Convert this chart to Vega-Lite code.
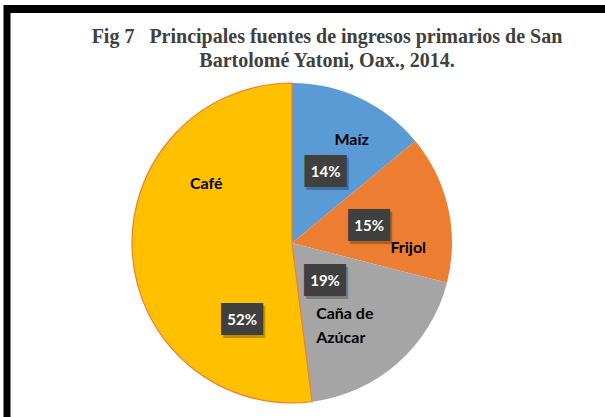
{
  "$schema": "https://vega.github.io/schema/vega-lite/v6.json",
  "width": 584,
  "height": 348,
  "autosize": {"type": "none"},
  "padding": {"left": 0, "top": 69, "right": 21, "bottom": 0},
  "background": "white",
  "config": {"view": {"stroke": null}},
  "title": {
    "text": ["Fig 7\u00a0\u00a0\u00a0Principales fuentes de ingresos primarios de San", "Bartolomé Yatoni, Oax., 2014."],
    "font": "Liberation Serif",
    "fontSize": 20,
    "fontWeight": "bold",
    "color": "#404040",
    "lineHeight": 24,
    "anchor": "middle",
    "frame": "group",
    "dx": 35,
    "offset": -69
  },
  "data": {
    "values": [
      {"cultivo": "Maíz", "etiqueta": "Maíz", "valor": 0.14},
      {"cultivo": "Frijol", "etiqueta": "Frijol", "valor": 0.15},
      {"cultivo": "Caña de Azúcar", "etiqueta": "Caña de\nAzúcar", "valor": 0.19},
      {"cultivo": "Café", "etiqueta": "Café", "valor": 0.52}
    ]
  },
  "layer": [
    {
      "data": {"values": [{}]},
      "mark": {"type": "rule", "color": "black", "strokeWidth": 8},
      "encoding": {"x": {"value": 4}, "x2": {"value": 605}, "y": {"value": -60}, "y2": {"value": -60}}
    },
    {
      "data": {"values": [{}]},
      "mark": {"type": "rule", "color": "black", "strokeWidth": 7},
      "encoding": {"x": {"value": 7}, "x2": {"value": 7}, "y": {"value": -64}, "y2": {"value": 348}}
    },
    {
      "encoding": {
        "theta": {"field": "valor", "type": "quantitative", "stack": true},
        "order": {"field": "valor", "type": "quantitative"}
      },
      "layer": [
        {
          "mark": {"type": "arc", "radius": 160, "strokeWidth": 1.2},
          "encoding": {
            "color": {
              "field": "cultivo", "type": "nominal", "legend": null,
              "scale": {"domain": ["Maíz", "Frijol", "Caña de Azúcar", "Café"], "range": ["#5B9BD5", "#ED7D31", "#A5A5A5", "#FFC000"]}
            },
            "stroke": {"condition": {"test": "datum.cultivo === 'Café'", "value": "#ED7D31"}, "value": null}
          }
        },
        {
          "mark": {"type": "text", "text": "██", "font": "DejaVu Sans", "fontSize": 27, "baseline": "middle", "color": "#000000", "dx": 2, "dy": 3, "radius": 79},
          "encoding": {
            "opacity": {"condition": {"test": "datum.cultivo === 'Maíz' || datum.cultivo === 'Frijol'", "value": 0.25}, "value": 0}
          }
        },
        {
          "mark": {"type": "text", "text": "██", "font": "DejaVu Sans", "fontSize": 27, "baseline": "middle", "color": "#000000", "dx": 2, "dy": 3, "radius": 50},
          "encoding": {
            "opacity": {"condition": {"test": "datum.cultivo === 'Caña de Azúcar'", "value": 0.25}, "value": 0}
          }
        },
        {
          "mark": {"type": "text", "text": "██", "font": "DejaVu Sans", "fontSize": 27, "baseline": "middle", "color": "#000000", "dx": 2, "dy": 77, "radius": 50},
          "encoding": {
            "opacity": {"condition": {"test": "datum.cultivo === 'Café'", "value": 0.25}, "value": 0}
          }
        },
        {
          "mark": {"type": "text", "text": "██", "font": "DejaVu Sans", "fontSize": 27, "baseline": "middle", "color": "#404040", "radius": 79},
          "encoding": {
            "opacity": {"condition": {"test": "datum.cultivo === 'Maíz' || datum.cultivo === 'Frijol'", "value": 1}, "value": 0}
          }
        },
        {
          "mark": {"type": "text", "text": "██", "font": "DejaVu Sans", "fontSize": 27, "baseline": "middle", "color": "#404040", "radius": 50},
          "encoding": {
            "opacity": {"condition": {"test": "datum.cultivo === 'Caña de Azúcar'", "value": 1}, "value": 0}
          }
        },
        {
          "mark": {"type": "text", "text": "██", "font": "DejaVu Sans", "fontSize": 27, "baseline": "middle", "color": "#404040", "dy": 74, "radius": 50},
          "encoding": {
            "opacity": {"condition": {"test": "datum.cultivo === 'Café'", "value": 1}, "value": 0}
          }
        },
        {
          "mark": {"type": "text", "font": "Lato", "fontSize": 15, "fontWeight": "bold", "baseline": "middle", "color": "white", "radius": 79},
          "encoding": {
            "text": {"field": "valor", "type": "quantitative", "format": ".0%"},
            "opacity": {"condition": {"test": "datum.cultivo === 'Maíz' || datum.cultivo === 'Frijol'", "value": 1}, "value": 0}
          }
        },
        {
          "mark": {"type": "text", "font": "Lato", "fontSize": 15, "fontWeight": "bold", "baseline": "middle", "color": "white", "radius": 50},
          "encoding": {
            "text": {"field": "valor", "type": "quantitative", "format": ".0%"},
            "opacity": {"condition": {"test": "datum.cultivo === 'Caña de Azúcar'", "value": 1}, "value": 0}
          }
        },
        {
          "mark": {"type": "text", "font": "Lato", "fontSize": 15, "fontWeight": "bold", "baseline": "middle", "color": "white", "dy": 74, "radius": 50},
          "encoding": {
            "text": {"field": "valor", "type": "quantitative", "format": ".0%"},
            "opacity": {"condition": {"test": "datum.cultivo === 'Café'", "value": 1}, "value": 0}
          }
        },
        {
          "mark": {"type": "text", "font": "Lato", "fontSize": 16, "fontWeight": "bold", "baseline": "middle", "color": "#000000", "radius": 119, "dx": 9, "dy": 5},
          "encoding": {
            "text": {"field": "etiqueta"},
            "opacity": {"condition": {"test": "datum.cultivo === 'Maíz'", "value": 1}, "value": 0}
          }
        },
        {
          "mark": {"type": "text", "font": "Lato", "fontSize": 16, "fontWeight": "bold", "baseline": "middle", "color": "#000000", "radius": 116, "dx": 3, "dy": 30},
          "encoding": {
            "text": {"field": "etiqueta"},
            "opacity": {"condition": {"test": "datum.cultivo === 'Frijol'", "value": 1}, "value": 0}
          }
        },
        {
          "mark": {"type": "text", "font": "Lato", "fontSize": 16, "fontWeight": "bold", "baseline": "middle", "align": "left", "color": "#000000", "radius": 100, "dx": -42, "dy": -4, "lineBreak": "\n", "lineHeight": 24},
          "encoding": {
            "text": {"field": "etiqueta"},
            "opacity": {"condition": {"test": "datum.cultivo === 'Caña de Azúcar'", "value": 1}, "value": 0}
          }
        },
        {
          "mark": {"type": "text", "font": "Lato", "fontSize": 16, "fontWeight": "bold", "baseline": "middle", "color": "#000000", "radius": 104, "dx": 18, "dy": -66},
          "encoding": {
            "text": {"field": "etiqueta"},
            "opacity": {"condition": {"test": "datum.cultivo === 'Café'", "value": 1}, "value": 0}
          }
        }
      ]
    }
  ]
}
